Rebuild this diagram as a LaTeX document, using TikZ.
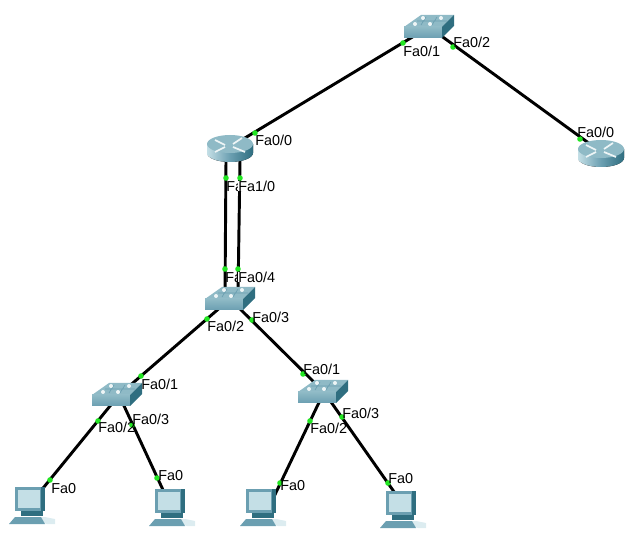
\documentclass[tikz,border=0pt]{standalone}
\usepackage{xcolor}
\usepackage{fontspec}
\setmainfont{Liberation Sans}
\usetikzlibrary{positioning, shapes.geometric}

\definecolor{devtop}{HTML}{8FBAC6}
\definecolor{devfront}{HTML}{6B9FB1}
\definecolor{devside}{HTML}{2F6E80}
\definecolor{devlight}{HTML}{C4DFE6}
\definecolor{portgreen}{HTML}{22E622}

\tikzset{
    link/.style={line width=2.2pt, black},
    port/.style={circle, fill=portgreen, inner sep=0pt, minimum size=4.2pt},
    portname/.style={font=\fontsize{10.8pt}{12pt}\selectfont, anchor=west, inner sep=0pt, text height=8pt, text depth=0pt},
    portcut/.style={portname, fill=white},
    switchicon/.pic={
        \fill[devtop] (-25,0) -- (-8,-12) -- (25,-12) -- (13,0) -- cycle;
        \fill[top color=devtop, bottom color=devfront] (-25,0) rectangle (13,11);
        \fill[devside] (13,0) -- (25,-12) -- (25,-1) -- (13,11) -- cycle;
        \draw[devfront, line width=.5pt] (-12,-6) -- (18,-6) (-3,-10) -- (-8,-2) (8,-10) -- (3,-2);
        \fill[white!85!devtop] (-14,-3) circle (2) (1,-3) circle (2) (-6,-9) circle (2) (12,-9) circle (2);
    },
    routericon/.pic={
        \fill[left color=devlight, right color=devside, middle color=devfront] (-23,-3) -- (-23,6) arc[start angle=180, end angle=360, x radius=23, y radius=-9] -- (23,-3) -- cycle;
        \fill[devtop] (0,-3) ellipse (17.25pt and 6.75pt);
        \draw[white!85!devtop, line width=1.3pt] (-15,-7) -- (-5,-2) (12,-9) -- (3,-3) (-5,0) -- (-15,5) (3,0) -- (15,5);
    },
    pcicon/.pic={
        \fill[devlight!60!white] (-6,14) -- (14,14) -- (24,16) -- (24,21) -- (16,21) -- cycle;
        \fill[devfront] (-22,21) -- (-16,14) -- (10,14) -- (14,21) -- cycle;
        \fill[devside] (-10,8) rectangle (12,13);
        \fill[devfront] (-16,-16) -- (14,-16) -- (14,8) -- (-16,8) -- cycle;
        \fill[devside] (10,-16) -- (14,-16) -- (14,8) -- (10,8) -- cycle;
        \fill[devlight] (-13,-13) rectangle (9,5);
    }
}

\begin{document}
\begin{tikzpicture}[x=0.75pt, y=-0.75pt]
    \useasboundingbox (0,0) rectangle (632,534);
    % devices
    \coordinate (sw0) at (429,27);
    \coordinate (r0) at (230,147);
    \coordinate (r1) at (601,152);
    \coordinate (sw1) at (230,299);
    \coordinate (sw2) at (119,395);
    \coordinate (sw3) at (324,392);
    \coordinate (pc0) at (35,498);
    \coordinate (pc1) at (170,505);
    \coordinate (pc2) at (270,505);
    \coordinate (pc3) at (404,506);
    \coordinate (r0a) at (226,160);
    \coordinate (r0b) at (240,160);
    \coordinate (sw1a) at (225,295);
    \coordinate (sw1b) at (238,295);
    % links
    \draw[link] (sw0) -- (r0);
    \draw[link] (sw0) -- (r1);
    \draw[link] (r0a) -- (sw1a);
    \draw[link] (r0b) -- (sw1b);
    \draw[link] (sw1) -- (sw2);
    \draw[link] (sw1) -- (sw3);
    \draw[link] (sw2) -- (pc0);
    \draw[link] (sw2) -- (pc1);
    \draw[link] (sw3) -- (pc2);
    \draw[link] (sw3) -- (pc3);
    % icons
    \pic at (429,27) {switchicon};
    \pic at (230,147) {routericon};
    \pic at (601,152) {routericon};
    \pic at (230,299) {switchicon};
    \pic at (117,395) {switchicon};
    \pic at (323,392) {switchicon};
    \pic at (31,503) {pcicon};
    \pic at (171,505) {pcicon};
    \pic at (262,505) {pcicon};
    \pic at (402,507) {pcicon};
    % ports
    \node[port] (p1) at (403,43) {};
    \node[port] (p2) at (453,47) {};
    \node[port] (p3) at (255,133) {};
    \node[port] (p4) at (580,139) {};
    \node[port] (p5) at (226,178) {};
    \node[port] (p6) at (240,178) {};
    \node[port] (p7) at (225,269) {};
    \node[port] (p8) at (238,269) {};
    \node[port] (p9) at (207,319) {};
    \node[port] (p10) at (252,320) {};
    \node[port] (p11) at (141,376) {};
    \node[port] (p12) at (98,421) {};
    \node[port] (p13) at (132,425) {};
    \node[port] (p14) at (303,374) {};
    \node[port] (p15) at (310,421) {};
    \node[port] (p16) at (342,417) {};
    \node[port] (p17) at (50,480) {};
    \node[port] (p18) at (157,478) {};
    \node[port] (p19) at (280,483) {};
    \node[port] (p20) at (388,483) {};
    % port names
    \node[portname] (n1) at (403,51) {Fa0/1};
    \node[portname] (n2) at (453,42) {Fa0/2};
    \node[portname] (n3) at (255,140) {Fa0/0};
    \node[portname] (n4) at (577,132) {Fa0/0};
    \node[portname] (n5) at (226,186) {Fa};
    \node[portcut] (n6) at (238,186) {Fa1/0};
    \node[portname] (n7) at (225,277) {Fa};
    \node[portcut] (n8) at (238,277) {Fa0/4};
    \node[portname] (n9) at (207,326) {Fa0/2};
    \node[portname] (n10) at (252,317) {Fa0/3};
    \node[portname] (n11) at (141,384) {Fa0/1};
    \node[portname] (n12) at (98,427) {Fa0/2};
    \node[portname] (n13) at (132,419) {Fa0/3};
    \node[portname] (n14) at (303,369) {Fa0/1};
    \node[portname] (n15) at (310,428) {Fa0/2};
    \node[portname] (n16) at (342,413) {Fa0/3};
    \node[portname] (n17) at (51,488) {Fa0};
    \node[portname] (n18) at (158,475) {Fa0};
    \node[portname] (n19) at (280,485) {Fa0};
    \node[portname] (n20) at (388,478) {Fa0};
\end{tikzpicture}
\end{document}
